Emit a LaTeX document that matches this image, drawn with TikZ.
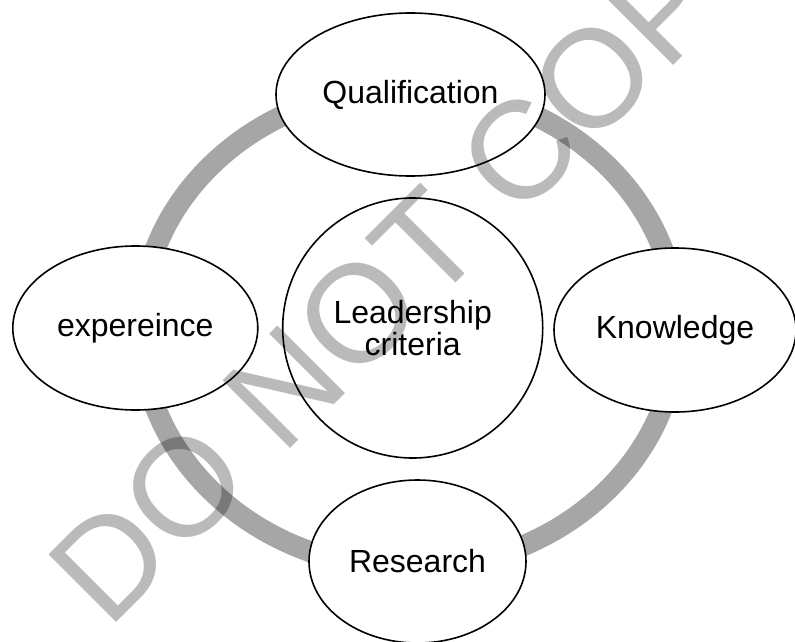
\documentclass[tikz,border=0pt]{standalone}
\usepackage{fontspec}
\setmainfont{Liberation Sans}
\usetikzlibrary{shapes.geometric}
\definecolor{ringgray}{RGB}{166,166,166}
\begin{document}
\begin{tikzpicture}[x=1pt,y=-1pt,
  bub/.style={draw=black,line width=1.6pt,fill=white,ellipse,inner sep=0pt,
    font=\fontsize{32}{32}\selectfont,align=center},
  ring/.style={draw=ringgray,line width=21pt},
  wmark/.style={rotate=45,inner sep=0pt,font=\fontsize{139}{139}\selectfont,
    text=black,text opacity=0.27}]
\clip (0,0) rectangle (795,642);
\fill[white] (0,0) rectangle (795,642);
\coordinate (c) at (409,328);
\draw[ring] (c) ellipse [x radius=268.5, y radius=240.5];
\node[bub,minimum width=269pt,minimum height=163pt] (q) at (410.5,94.5) {Qualification};
\node[bub,minimum width=245pt,minimum height=164pt] (e) at (135.3,328) {expereince};
\node[bub,minimum width=242pt,minimum height=164pt] (k) at (675,330) {Knowledge};
\node[bub,minimum width=217pt,minimum height=163pt] (r) at (417.5,561.5) {Research};
\node[bub,minimum width=260pt,minimum height=260pt] (l) at (412.7,328) {Leadership\\criteria};
\node[wmark] (wm) at (418.5,253) {DO NOT COPY};
\end{tikzpicture}
\end{document}
